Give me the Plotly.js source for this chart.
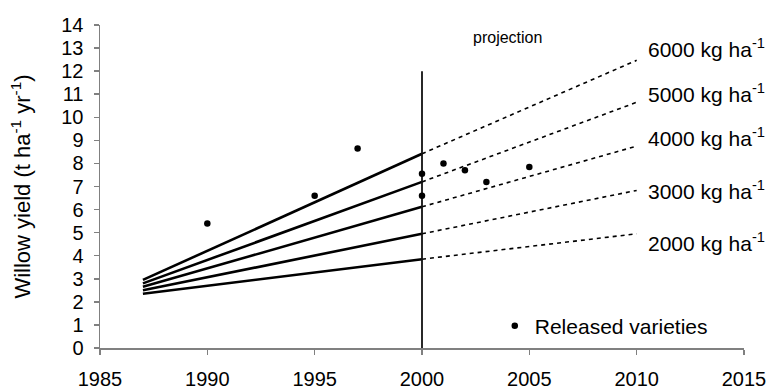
<!DOCTYPE html>
<html>
<head>
<meta charset="utf-8">
<script src="https://cdn.plot.ly/plotly-3.0.1.min.js"></script>
<style>html,body{margin:0;padding:0;background:#fff;}#chart{width:769px;height:388px;}</style>
</head>
<body>
<div id="chart"></div>
<script>
// Nitrogen application rates (kg ha-1)
const rates = ['2000', '3000', '4000', '5000', '6000'];
// Historic trend lines 1987-2000
const histYears = [1987, 2000];
const hist2000 = [2.35, 3.85];
const hist3000 = [2.50, 4.95];
const hist4000 = [2.65, 6.12];
const hist5000 = [2.80, 7.20];
const hist6000 = [2.95, 8.42];
// Projections 2000-2010
const projYears = [2000, 2010];
const proj2000 = [3.85, 4.95];
const proj3000 = [4.95, 6.83];
const proj4000 = [6.12, 8.75];
const proj5000 = [7.20, 10.65];
const proj6000 = [8.42, 12.47];
// Released varieties
const varYears = [1990, 1995, 1997, 2000, 2000, 2001, 2002, 2003, 2005];
const varYield = [5.40, 6.60, 8.65, 7.55, 6.60, 8.00, 7.70, 7.20, 7.85];
// Projection divider
const dividerX = [2000, 2000];
const dividerY = [0, 12];
// Axis ticks
const xTicks = [1985, 1990, 1995, 2000, 2005, 2010, 2015];
const yTicks = [0,1,2,3,4,5,6,7,8,9,10,11,12,13,14];
// Label positions for rate annotations (y in data units)
const labelY = [4.6, 6.85, 9.15, 11.05, 13.0];

const hist = [hist2000, hist3000, hist4000, hist5000, hist6000];
const proj = [proj2000, proj3000, proj4000, proj5000, proj6000];

const FONT = 'Liberation Sans, Arial, sans-serif';
const traces = [];
hist.forEach((h) => {
  traces.push({x: histYears, y: h, mode: 'lines', line: {color: '#000', width: 2.6}, showlegend: false, hoverinfo: 'skip'});
});
proj.forEach((p) => {
  traces.push({x: projYears, y: p, mode: 'lines', line: {color: '#000', width: 1.6, dash: '4px,4px'}, showlegend: false, hoverinfo: 'skip'});
});
traces.push({x: dividerX, y: dividerY, mode: 'lines', line: {color: '#111', width: 1.8}, showlegend: false, hoverinfo: 'skip'});
traces.push({x: varYears, y: varYield, mode: 'markers', name: 'Released varieties', marker: {color: '#000', size: 6.5}, showlegend: true});

const annotations = rates.map((r, i) => ({
  x: 2010.42, y: labelY[i], xref: 'x', yref: 'y', xanchor: 'left', yanchor: 'middle',
  text: r + ' kg ha<sup>-1</sup>', showarrow: false, font: {family: FONT, size: 21, color: '#000'}
}));
annotations.push({
  x: 2003.96, y: 13.44, xref: 'x', yref: 'y', xanchor: 'center', yanchor: 'middle',
  text: 'projection', showarrow: false,
  font: {family: FONT, size: 16, color: '#000'}
});

const layout = {
  width: 769, height: 388,
  margin: {l: 100, r: 25, t: 25, b: 40},
  paper_bgcolor: '#fff', plot_bgcolor: '#fff',
  font: {family: FONT, size: 20, color: '#000'},
  showlegend: true,
  legend: {x: 0.613, y: 0.068, xanchor: 'left', yanchor: 'middle', bgcolor: 'rgba(0,0,0,0)', font: {family: FONT, size: 21, color: '#000'}},
  xaxis: {
    range: [1985, 2015], tickvals: xTicks, ticktext: xTicks.map(String),
    showline: true, linecolor: '#808080', linewidth: 1.5,
    ticks: 'outside', ticklen: 5, tickwidth: 1.5, tickcolor: '#808080',
    showgrid: false, zeroline: false, ticklabelstandoff: 7,
    tickfont: {family: FONT, size: 20, color: '#000'}
  },
  yaxis: {
    range: [0, 14], tickvals: yTicks, ticktext: yTicks.map(String),
    showline: true, linecolor: '#808080', linewidth: 1.5,
    ticks: 'outside', ticklen: 5, tickwidth: 1.5, tickcolor: '#808080',
    showgrid: false, zeroline: false, ticklabelstandoff: 6,
    tickfont: {family: FONT, size: 20, color: '#000'},
    title: {text: 'Willow yield (t ha<sup>-1</sup> yr<sup>-1</sup>)', standoff: 24, font: {family: FONT, size: 22, color: '#000'}}
  },
  annotations: annotations
};

Plotly.newPlot('chart', traces, layout, {staticPlot: true, displayModeBar: false});
</script>
</body>
</html>
